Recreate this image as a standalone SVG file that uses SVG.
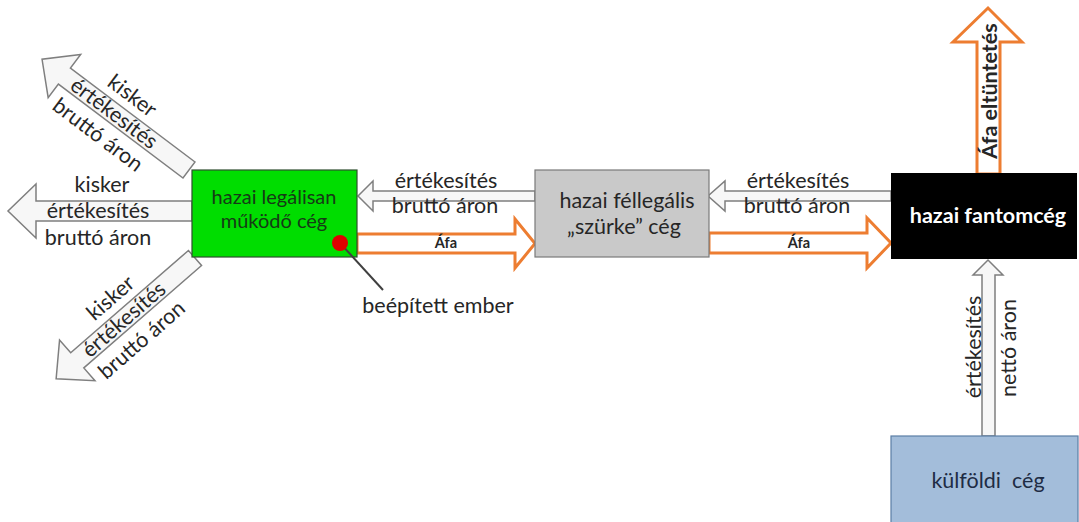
<svg xmlns="http://www.w3.org/2000/svg" width="1079" height="522" viewBox="0 0 1079 522">
<style>
.t{font-family:Lato,"Liberation Sans",sans-serif;font-size:21.5px;fill:#262626}
.c{text-anchor:middle}
.b{font-weight:bold}
.g{font-size:20px;fill:#163a16}
.wa{fill:#f7f7f7;stroke:#7f7f7f;stroke-width:1.5}
.oa{fill:#ffffff;stroke:#ED7D31;stroke-width:3;stroke-linejoin:miter}
.afa{font-family:Lato,"Liberation Sans",sans-serif;font-size:14.5px;font-weight:bold;fill:#262626;text-anchor:middle}
</style>
<defs>
<path id="kArrow" d="M0,-10 L-156,-10 L-156,-27 L-184,0 L-156,27 L-156,10 L0,10 Z"/>
</defs>
<rect width="1079" height="522" fill="#ffffff"/>
<g id="connectors">
  <g id="kisker-up" transform="translate(189,170) rotate(37)">
    <use href="#kArrow" class="wa"/>
    <text class="t c" x="-90" y="-18">kisker</text>
    <text class="t c" x="-94" y="7">értékesítés</text>
    <text class="t c" x="-94" y="34">bruttó áron</text>
  </g>
  <g id="kisker-left" transform="translate(192,211)">
    <use href="#kArrow" class="wa"/>
    <text class="t c" x="-90" y="-19">kisker</text>
    <text class="t c" x="-94" y="7">értékesítés</text>
    <text class="t c" x="-94" y="34">bruttó áron</text>
  </g>
  <g id="kisker-down" transform="translate(195,258) rotate(-41)">
    <use href="#kArrow" class="wa"/>
    <text class="t c" x="-90" y="-18">kisker</text>
    <text class="t c" x="-94" y="7">értékesítés</text>
    <text class="t c" x="-94" y="34">bruttó áron</text>
  </g>
  <g id="gray-to-green">
    <path class="wa" d="M535,191 L373,191 L373,181 L358,196 L373,211 L373,201 L535,201 Z"/>
    <text class="t c" x="446" y="188">értékesítés</text>
    <text class="t c" x="445" y="213">bruttó áron</text>
  </g>
  <g id="black-to-gray">
    <path class="wa" d="M891,191 L725,191 L725,181 L708,196 L725,211 L725,201 L891,201 Z"/>
    <text class="t c" x="798" y="188">értékesítés</text>
    <text class="t c" x="797" y="213">bruttó áron</text>
  </g>
  <g id="afa-1">
    <path class="oa" d="M357,234 L515,234 L515,219 L535,243.5 L515,268 L515,253 L357,253 Z"/>
    <text class="afa" x="446" y="248">Áfa</text>
  </g>
  <g id="afa-2">
    <path class="oa" d="M709,233 L867,233 L867,218 L891,243 L867,268 L867,253 L709,253 Z"/>
    <text class="afa" x="799" y="248">Áfa</text>
  </g>
  <g id="afa-eltuntetes">
    <path class="oa" d="M977,174 L977,42 L953,42 L988,8 L1022,42 L1000,42 L1000,174 Z"/>
    <text class="t c b" transform="translate(997,91) rotate(-90)" x="0" y="0">Áfa eltüntetés</text>
  </g>
  <g id="kulfold-to-fantom">
    <path class="wa" d="M982,436 L982,275 L973,275 L988,260 L1003,275 L995,275 L995,436 Z"/>
    <text class="t c" transform="translate(981,347) rotate(-90)" x="0" y="0">értékesítés</text>
    <text class="t c" transform="translate(1016,348) rotate(-90)" x="0" y="0">nettó áron</text>
  </g>
</g>
<g id="node-legal">
  <rect x="192" y="170" width="165" height="87" fill="#00dd00" stroke="#2f4f2f" stroke-width="1.2"/>
  <text class="t c g" x="274" y="204">hazai legálisan</text>
  <text class="t c g" x="274" y="228">működő cég</text>
</g>
<g id="node-grey">
  <rect x="535" y="170" width="174" height="87" fill="#c9c9c9" stroke="#7a7a7a" stroke-width="1.2"/>
  <text class="t c" x="627" y="208">hazai féllegális</text>
  <text class="t c" x="624" y="234">„szürke” cég</text>
</g>
<g id="node-fantom">
  <rect x="891" y="173" width="186" height="86" fill="#000000"/>
  <text class="t c b" x="988" y="223" style="fill:#ffffff">hazai fantomcég</text>
</g>
<g id="node-kulfoldi">
  <rect x="891" y="436" width="187" height="90" fill="#a3bdda" stroke="#5b7ea6" stroke-width="1.2"/>
  <text class="t c" x="988" y="488" style="fill:#1e2c44" xml:space="preserve">külföldi  cég</text>
</g>
<g id="insider">
  <line x1="340" y1="243" x2="383" y2="290" stroke="#404040" stroke-width="2"/>
  <circle cx="340" cy="243" r="8" fill="#e00000"/>
  <text class="t c" x="438" y="313">beépített ember</text>
</g>
</svg>
